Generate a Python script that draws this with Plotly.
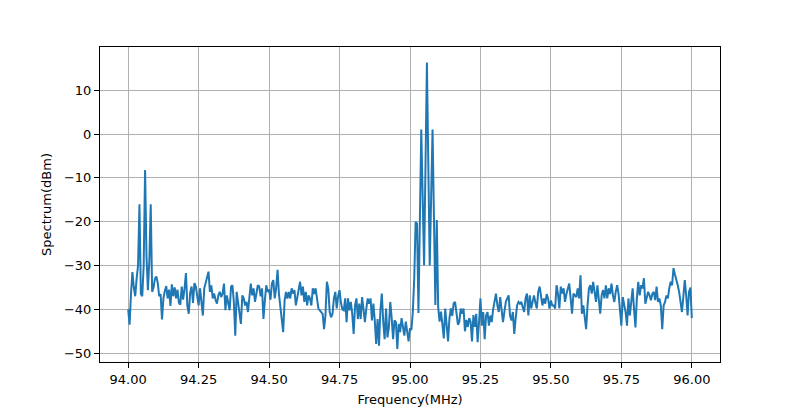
import numpy as np
import plotly.graph_objects as go

# Frequency grid (MHz), 0.005 MHz step from 94 to 96
freq = np.linspace(94.0, 96.0, 401)

# Spectrum values (dBm), split by frequency span
seg_left_peaks = [-40, -43.5, -36.5, -31.5, -35, -37, -33, -30, -16, -36.5,
                  -37, -30, -8.2, -28, -35.6, -29, -16, -36, -35, -33]
seg_9410_9424 = [-32.5, -34, -37, -36.5, -42.3, -37.5, -35.8, -34.7, -37.5, -35.5,
                 -39.2, -34.3, -37, -35, -37.5, -35.5, -38.5, -38.9, -34.8, -37.8,
                 -35.2, -31.7, -39.2, -41, -36.2, -34.8, -38.5, -34]
seg_9424_9451 = [-34.8, -37.5, -39.1, -35.2, -38, -41.4, -35.2, -34.1, -33, -31.4,
                 -36, -34.5, -37.5, -36.4, -37.8, -38.7, -36.8, -36, -37.2, -36.4,
                 -34.1, -40.2, -36.8, -38.5, -40.2, -34.8, -34.5, -38.3, -46, -36,
                 -38.3, -40.6, -43.3, -36.8, -37.5, -39.1, -38.3, -40.6, -36.5, -34.1,
                 -36.8, -35.2, -38.3, -36, -34.5, -34.8, -37, -35.2, -42.2, -38,
                 -34.5, -36, -35.5, -37.8]
seg_9451_9476 = [-34.1, -33.3, -37.5, -35.2, -31, -36.5, -39.8, -41.4, -45.2, -38,
                 -36, -37.5, -36, -37.5, -35.2, -36.4, -35.6, -39.1, -37, -34.8,
                 -33.7, -36.8, -34.8, -38.3, -36, -39.1, -36.8, -37.5, -39.1, -35.2,
                 -36.5, -35.2, -38.3, -39.8, -40.2, -40.6, -41, -44.5, -41.4, -33.7,
                 -35.2, -40.6, -41.8, -41, -37.5, -36, -39.8, -37, -35.6, -38.5, -40]
seg_9476_9498 = [-40.2, -37.5, -42.9, -37.5, -40.2, -38.3, -41, -45.6, -39.1, -37.5,
                 -42.2, -38.7, -42.2, -37.2, -40, -42.9, -39.8, -37.5, -38.7, -37.5,
                 -42.5, -38.7, -42.5, -47.9, -42.2, -48.3, -40.2, -36.4, -42.9, -46.8,
                 -39.8, -46.4, -44.1, -38.3, -42, -46.8, -42.5, -42.9, -49, -43.3,
                 -45.2, -42, -44, -46]
seg_9499_9501 = [-42.8, -45, -47.3, -44.3, -44.7, -40.5]
seg_center_peaks = [-33, -20, -20.5, -40.8, -20, 1, -14.5, -30, -7, 16.3,
                    -7, -30, -14.5, 1, -19, -39, -19.6, -39.5, -42.8]
seg_9511_9523 = [-40.5, -43.5, -46.6, -39.8, -44, -47.3, -42, -39.8, -41.5, -38.6,
                 -38.3, -40.5, -43.5, -42.8, -39.8, -41, -39.8, -45, -42.4, -44,
                 -42, -42.8, -47.3, -41.3, -44]
seg_9524_9548 = [-41, -47.5, -42.9, -37.5, -43.7, -40.6, -46.8, -41.4, -40.6, -43.7,
                 -41.4, -42.9, -40, -38.3, -36.4, -39.1, -40.6, -37.2, -39.8, -42.9,
                 -40.5, -38.3, -37.5, -36.8, -41.4, -42.5, -40.6, -45.6, -42, -39.1,
                 -38.3, -38.7, -38.3, -39.8, -40.6, -37.5, -36.4, -41.4, -36.8, -39.8,
                 -38.3, -36.8, -38.5, -39.8, -36, -34.8, -37, -39.1, -37.5, -38.7, -36.5]
seg_9549_9573 = [-37.5, -39.8, -38, -39.1, -39.1, -39.8, -34.5, -36.4, -39.8, -34.8,
                 -36.4, -35.2, -38.3, -36.5, -35.2, -34.1, -37.5, -41, -36.4, -36.8,
                 -37.2, -35.2, -37.5, -32.2, -41, -39.1, -41.8, -44.5, -39.1, -35.2,
                 -34.5, -36.4, -33.7, -36, -38.3, -34.5, -38, -41, -36.8, -35.6,
                 -37.5, -34.5, -37.5, -35.2, -36.5, -34.1, -36.8, -38.3, -36, -34.5]
seg_9574_9600 = [-36.4, -40, -43.7, -37.2, -39.1, -40.6, -43.7, -37.5, -41.4, -37.9,
                 -35.2, -40, -44.1, -37.5, -33.7, -36.8, -34.5, -35.2, -32.9, -38.7,
                 -37.5, -36, -36.8, -37.9, -36.4, -36, -37.9, -34.8, -38.3, -37.5,
                 -39.1, -44.5, -39.1, -38.3, -36.8, -37.5, -35.2, -33.7, -34.5, -30.6,
                 -32, -33.7, -34.5, -36, -38.3, -40.6, -37, -33.3, -36.8, -41.4,
                 -36, -35, -42]

spectrum = (seg_left_peaks + seg_9410_9424 + seg_9424_9451 + seg_9451_9476
            + seg_9476_9498 + seg_9499_9501 + seg_center_peaks + seg_9511_9523
            + seg_9524_9548 + seg_9549_9573 + seg_9574_9600)

x_ticks = [94.0, 94.25, 94.5, 94.75, 95.0, 95.25, 95.5, 95.75, 96.0]
y_ticks = [-50, -40, -30, -20, -10, 0, 10]

fig = go.Figure()
fig.add_trace(go.Scatter(
    x=freq[:len(spectrum)],
    y=spectrum,
    mode="lines",
    line=dict(color="#1f77b4", width=2),
))

axis_style = dict(
    showline=True, mirror=True, linecolor="black", linewidth=1,
    ticks="outside", ticklen=5, tickcolor="black",
    showgrid=True, gridcolor="#b0b0b0", gridwidth=1,
    zeroline=False, automargin=False,
    tickfont=dict(family="DejaVu Sans", size=13, color="black"),
)

# page body adds an 8px offset, so margins are shifted to compensate
fig.update_layout(
    width=800, height=409,
    margin=dict(l=92, r=88, t=39, b=55),
    paper_bgcolor="white", plot_bgcolor="white",
    showlegend=False,
    font=dict(family="DejaVu Sans", size=13, color="black"),
    xaxis=dict(
        range=[93.9, 96.1], tickvals=x_ticks,
        ticktext=[f"{v:.2f}" for v in x_ticks],
        title=dict(text="Frequency(MHz)", standoff=9,
                   font=dict(family="DejaVu Sans", size=13)),
        **axis_style,
    ),
    yaxis=dict(
        range=[-52.0, 19.85], tickvals=y_ticks,
        title=dict(text="Spectrum(dBm)", standoff=9,
                   font=dict(family="DejaVu Sans", size=13)),
        **axis_style,
    ),
)

fig.write_html("out.html")
